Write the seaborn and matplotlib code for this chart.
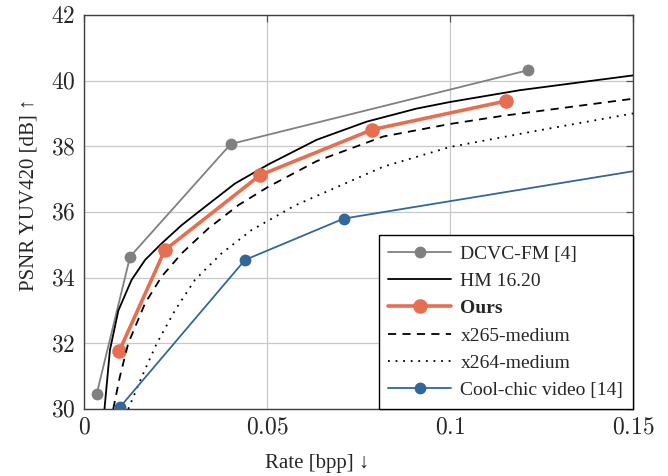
import numpy as np
import pandas as pd
import seaborn as sns
import matplotlib.pyplot as plt
from matplotlib.ticker import FuncFormatter, MultipleLocator

# (rate in bpp, PSNR in dB)
dcvc_rate = [0.0035, 0.0126, 0.0401, 0.1214]
dcvc_psnr = [30.47, 34.64, 38.07, 40.32]

hm_rate = [0.0056, 0.0071, 0.0094, 0.0130, 0.0167, 0.0212, 0.0267, 0.0331, 0.0413,
           0.0504, 0.0636, 0.0772, 0.0909, 0.100, 0.1191, 0.150]
hm_psnr = [30.0, 31.8, 33.0, 33.93, 34.54, 35.04, 35.60, 36.16, 36.87,
           37.45, 38.20, 38.75, 39.15, 39.35, 39.71, 40.16]

ours_rate = [0.0097, 0.0221, 0.0481, 0.0788, 0.1153]
ours_psnr = [31.78, 34.84, 37.12, 38.51, 39.38]

x265_rate = [0.0080, 0.0098, 0.0121, 0.0167, 0.0212, 0.0267, 0.0340, 0.0422, 0.0504,
             0.0636, 0.0818, 0.100, 0.1145, 0.150]
x265_psnr = [30.0, 30.98, 32.0, 33.22, 34.03, 34.74, 35.50, 36.21, 36.77,
             37.55, 38.30, 38.68, 38.93, 39.45]

x264_rate = [0.0121, 0.0158, 0.0199, 0.0249, 0.0303, 0.0376, 0.0458, 0.0577, 0.0818,
             0.100, 0.125, 0.150]
x264_psnr = [30.0, 30.98, 32.0, 33.01, 33.93, 34.74, 35.45, 36.2, 37.38,
             37.98, 38.5, 39.0]

coolchic_rate = [0.0098, 0.0440, 0.0710, 0.190]
coolchic_psnr = [30.05, 34.54, 35.80, 37.97]

sns.set_theme(style="white")
plt.rcParams["font.family"] = ["Liberation Serif", "DejaVu Serif"]
plt.rcParams["mathtext.fontset"] = "cm"

fig, ax = plt.subplots(figsize=(6.68, 4.76), dpi=100)
fig.subplots_adjust(left=0.1257, right=0.9476, top=0.9685, bottom=0.1408)

orange = "#e66f51"
blue = "#33679a"
gray = "#808080"

series = [
    ("DCVC-FM [4]", dcvc_rate, dcvc_psnr, dict(color=gray, lw=1.3, marker="o", ms=8.5, ls="-")),
    ("HM 16.20", hm_rate, hm_psnr, dict(color="black", lw=1.3, marker=None, ls="-")),
    ("Ours", ours_rate, ours_psnr, dict(color=orange, lw=2.6, marker="o", ms=10.5, ls="-")),
    ("x265-medium", x265_rate, x265_psnr, dict(color="black", lw=1.3, marker=None, ls=(0, (4.5, 3.5)))),
    ("x264-medium", x264_rate, x264_psnr, dict(color="black", lw=1.3, marker=None, ls=(0, (1, 3.2)))),
    ("Cool-chic video [14]", coolchic_rate, coolchic_psnr, dict(color=blue, lw=1.3, marker="o", ms=8.5, ls="-")),
]

for name, rate, psnr, st in series:
    df = pd.DataFrame({"rate": rate, "psnr": psnr})
    kw = dict(
        data=df, x="rate", y="psnr", ax=ax, label=name, sort=False,
        color=st["color"], linewidth=st["lw"], linestyle=st["ls"], zorder=5,
    )
    if st["marker"]:
        kw.update(marker="o", markersize=st["ms"], markeredgewidth=0)
    sns.lineplot(**kw)

ax.set_xlim(0, 0.15)
ax.set_ylim(30, 42)
ax.xaxis.set_major_locator(MultipleLocator(0.05))
ax.yaxis.set_major_locator(MultipleLocator(2))
ax.xaxis.set_major_formatter(FuncFormatter(lambda v, p: "$%g$" % round(v, 3)))
ax.yaxis.set_major_formatter(FuncFormatter(lambda v, p: "$%d$" % v))
ax.tick_params(axis="both", direction="in", length=5, width=0.9, color="#555555",
               labelsize=17, top=True, right=True, pad=6)
ax.grid(True, color="#c8c8c8", linewidth=0.9)
for sp in ax.spines.values():
    sp.set_color("#404040")
    sp.set_linewidth(1.0)

ax.set_xlabel("Rate [bpp] ↓", fontsize=15)
ax.set_ylabel("PSNR YUV420 [dB] ↑", fontsize=15)
ax.xaxis.set_label_coords(0.425, -0.115)
ax.yaxis.set_label_coords(-0.082, 0.545)

leg = ax.legend(loc="lower right", borderaxespad=0, fontsize=14, frameon=True,
                fancybox=False, framealpha=1, edgecolor="black",
                handlelength=3.2, handletextpad=0.5, labelspacing=0.5, borderpad=0.5)
leg.get_frame().set_linewidth(1.0)
leg.set_zorder(10)
for t in leg.get_texts():
    if t.get_text() == "Ours":
        t.set_fontweight("bold")

fig.savefig("out.png", dpi=100)
